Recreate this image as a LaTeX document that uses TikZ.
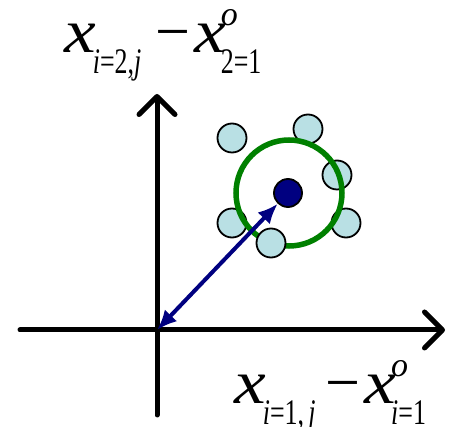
\documentclass[tikz,border=0pt]{standalone}
\usepackage{fontspec}
\setmainfont{Liberation Serif}
\usepackage{graphicx}
\usepackage{tikz}
\usetikzlibrary{arrows.meta}
\definecolor{dotblue}{RGB}{0,0,128}
\definecolor{ringgreen}{RGB}{0,128,0}
\definecolor{ptcyan}{RGB}{185,224,228}
% axis label pieces
\newcommand{\idxfont}[1]{\scalebox{0.72}[1]{\fontsize{36}{36}\selectfont#1}}
\newcommand{\supfont}[1]{{\fontsize{34}{34}\selectfont#1}}
\newcommand{\bigx}{\scalebox{1.15}[1]{\textit{x}}}
\newcommand{\xsub}[1]{\bigx\kern-3pt\raisebox{-21pt}{\idxfont{#1}}}
\newcommand{\xsubsup}[2]{\bigx\kern-5pt\rlap{\raisebox{27pt}{\supfont{\textit{#2}}}}\raisebox{-21pt}{\idxfont{#1}}}

\begin{document}
\begin{tikzpicture}[x=1pt, y=-1pt,
  axis/.style={line width=5pt, line cap=round, line join=round,
               -{Straight Barb[length=18pt, width=36pt, line cap=round, line join=round]}},
  point/.style={circle, draw=black, line width=1.8pt, fill=ptcyan,
                minimum size=29pt, inner sep=0pt},
  best/.style={circle, draw=black, line width=1.8pt, fill=dotblue,
               minimum size=28pt, inner sep=0pt},
  vec/.style={{Latex[length=20pt, width=17pt]}-{Latex[length=20pt, width=17pt]},
              line width=4pt, dotblue},
  axlabel/.style={anchor=base west, inner sep=0pt, font=\fontsize{62}{62}\selectfont}]
  \useasboundingbox (0,0) rectangle (450,427);
  % axes
  \coordinate (o) at (157,330);
  \coordinate (xl) at (20,330);
  \coordinate (xr) at (445,330);
  \coordinate (yb) at (157,415);
  \coordinate (yt) at (157,94);
  \draw[axis] (xl) -- (xr);
  \draw[axis] (yb) -- (yt);
  % neighbours
  \node[point] (p1) at (232,138) {};
  \node[point] (p2) at (308,129) {};
  \node[point] (p3) at (337,175) {};
  \node[point] (p4) at (232,223) {};
  \node[point] (p5) at (346,223) {};
  \node[circle, draw=ringgreen, line width=5.5pt, minimum size=106pt] (ring) at (289,193) {};
  \node[point] (p6) at (271,243) {};
  \node[best] (c) at (288,193) {};
  \draw[vec] (o) -- (c);
  % labels
  \node[axlabel] (ylab) at (64,53)
    {\xsub{\textit{i}=2,\textit{j}}\kern14pt−\kern4pt\xsubsup{2=1}{o}};
  \node[axlabel] (xlab) at (234,404)
    {\xsub{\textit{i}=1,\,\textit{j}}\kern10pt−\kern4pt\xsubsup{\textit{i}=1}{o}};
\end{tikzpicture}
\end{document}
